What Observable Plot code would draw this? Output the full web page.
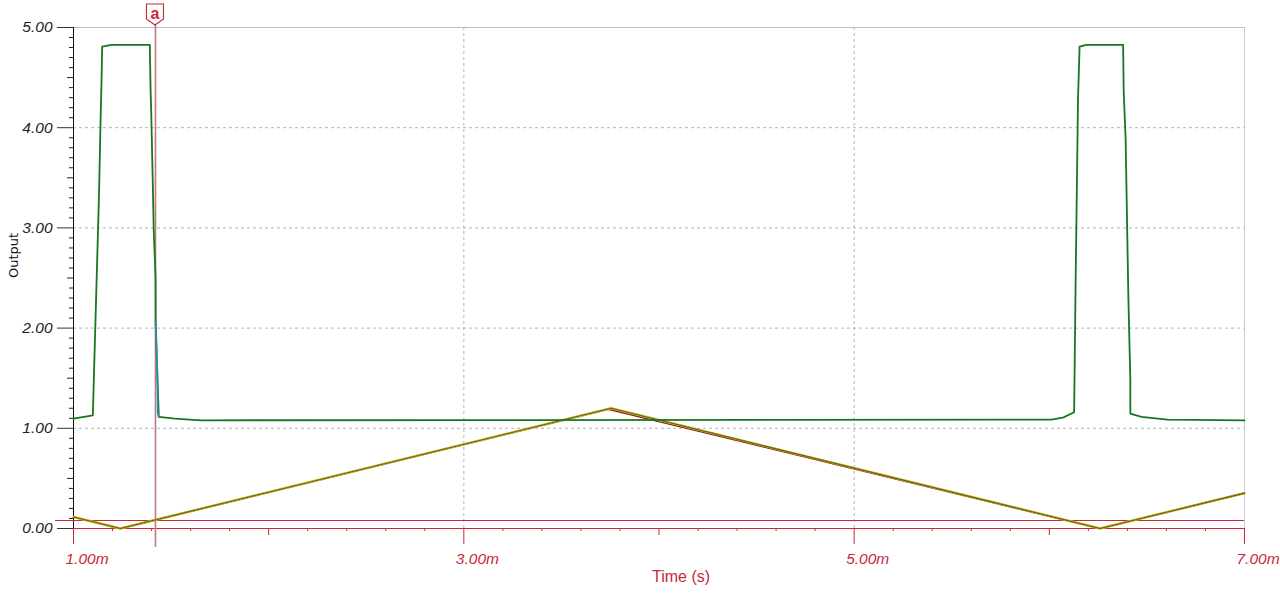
<!DOCTYPE html>
<html><head><meta charset="utf-8">
<script src="https://cdn.jsdelivr.net/npm/d3@7"></script>
<script src="https://cdn.jsdelivr.net/npm/@observablehq/plot@0.6"></script>
<style>
body{margin:0;background:#fff;}
#chart{width:1280px;height:598px;}
</style>
</head><body><div id="chart"></div>
<script>
// ---- data (time in ms, output in V) ----
const greenT = [1.000, 1.099, 1.130, 1.140, 1.144, 1.147, 1.195, 1.391, 1.395, 1.398, 1.408, 1.411, 1.4205, 1.421,
                1.437, 1.520, 1.595, 1.653, 6.010, 6.070, 6.127, 6.135, 6.147, 6.155, 6.190, 6.378, 6.381, 6.391,
                6.405, 6.415, 6.415, 6.472, 6.605, 7.000];
const greenV = [1.097, 1.130, 3.280, 4.180, 4.500, 4.810, 4.827, 4.827, 4.370, 4.180, 3.280, 2.980, 2.510, 2.050,
                1.113, 1.097, 1.087, 1.080, 1.087, 1.107, 1.160, 2.500, 4.290, 4.810, 4.827, 4.827, 4.370, 3.880,
                2.300, 1.480, 1.147, 1.113, 1.087, 1.080];
const tealT = [1.421, 1.429, 1.432, 1.437];
const tealV = [2.050, 1.580, 1.150, 1.113];
const triT = [1.000, 1.240, 3.754, 6.260, 7.000];
const triV = [0.115, 0.000, 1.200, 0.000, 0.353];
const redT = [1.000, 1.240, 3.740, 6.260, 7.000];
const redV = [0.115, 0.000, 1.190, 0.000, 0.353];
const threshold = [0.08];
const cursorT = [1.42];
const cursorLabel = "a";
const xMajor = [1, 3, 5, 7];
const xMedium = [2, 4, 6];
const xMinor = d3.range(1, 7.0001, 0.2).map(d => +d.toFixed(1)).filter(d => !Number.isInteger(d));
const yMajor = [0, 1, 2, 3, 4, 5];
const yMedium = [0.5, 1.5, 2.5, 3.5, 4.5];
const yMinor = d3.range(0, 5.0001, 0.1).map(d => +d.toFixed(1)).filter(d => !Number.isInteger(d * 2));
const xTitle = "Time (s)";
const yTitle = "Output";

const toRows = (T, V) => T.map((t, i) => ({t, v: V[i]}));
const green = toRows(greenT, greenV);
const teal = toRows(tealT, tealV);
const tri = toRows(triT, triV);
const red = toRows(redT, redV);

const RED = "#c8283a";
const font = "'Liberation Sans', Arial, sans-serif";

const plot = Plot.plot({
  width: 1280, height: 598,
  marginLeft: 73, marginRight: 36, marginTop: 27, marginBottom: 70,
  x: {domain: [1, 7]},
  y: {domain: [0, 5]},
  style: {fontFamily: font, background: "white", overflow: "visible"},
  marks: [
    Plot.gridY([1, 2, 3, 4], {stroke: "#b4b4b4", strokeOpacity: 1, strokeDasharray: "3,3"}),
    Plot.gridX([3, 5], {stroke: "#b4b4b4", strokeOpacity: 1, strokeDasharray: "3,3"}),
    Plot.ruleY([5], {stroke: "#bcbcbc"}),
    Plot.ruleX([7], {stroke: "#cccccc"}),
    // y axis
    Plot.axisY(yMinor, {tickSize: 4, tickFormat: () => "", label: null, color: "#222"}),
    Plot.axisY(yMedium, {tickSize: 6, tickFormat: () => "", label: null, color: "#222"}),
    Plot.axisY(yMajor, {tickSize: 16, tickPadding: 5, tickFormat: d => d.toFixed(2), label: null,
      color: "#333", fill: "#222", fontSize: 15.5, fontStyle: "italic"}),
    Plot.ruleX([1], {stroke: "#111"}),
    // x axis
    Plot.axisX(xMinor, {tickSize: 3, tickFormat: () => "", label: null, color: RED}),
    Plot.axisX(xMedium, {tickSize: 7, tickFormat: () => "", label: null, color: RED}),
    Plot.axisX(xMajor, {tickSize: 16, tickFormat: () => "", label: null, color: RED}),
    Plot.axisX(xMajor, {tickSize: 0, tickPadding: 24, tickFormat: d => d.toFixed(2) + "m", label: null,
      color: RED, fontSize: 15.5, fontStyle: "italic", textAnchor: "start", dx: -8}),
    Plot.ruleY([0], {stroke: RED, strokeWidth: 1.2}),
    Plot.ruleY(threshold, {stroke: RED, strokeWidth: 1.1, insetLeft: -18}),
    // cursor
    Plot.ruleX(cursorT, {stroke: "#c07a80", strokeWidth: 1.6, insetTop: -17, insetBottom: -19}),
    // triangle traces
    Plot.line(red, {x: "t", y: "v", stroke: "#8a1010", strokeWidth: 1.6}),
    Plot.line(tri, {x: "t", y: "v", stroke: "#cbb828", strokeWidth: 2.4}),
    Plot.line(tri, {x: "t", y: "v", stroke: "#6a6214", strokeWidth: 1.1}),
    // pulse trace
    Plot.line(green, {x: "t", y: "v", stroke: "#18761e", strokeWidth: 1.8}),
    Plot.line(teal, {x: "t", y: "v", stroke: "#2e8ea8", strokeWidth: 1.8}),
    // titles
    Plot.text([xTitle], {frameAnchor: "bottom", dx: 22, dy: 53, text: d => d, fill: RED, fontSize: 16}),
    Plot.text([yTitle], {frameAnchor: "left", dx: -60, rotate: -90, text: d => d, fill: "#111", fontSize: 13,
      fontFamily: "'DejaVu Sans', sans-serif"})
  ]
});

// cursor flag marker
const svg = d3.select(plot);
const cx = plot.scale("x").apply(cursorT[0]);
const g = svg.append("g");
g.append("path")
  .attr("d", `M${cx - 8.5},4 H${cx + 8.5} V19 L${cx},25 L${cx - 8.5},19 Z`)
  .attr("fill", "white").attr("stroke", RED).attr("stroke-width", 1.1);
g.append("text").attr("x", cx).attr("y", 18.5).attr("text-anchor", "middle")
  .attr("fill", RED).attr("font-size", 16).attr("font-weight", "bold").attr("font-family", font).text(cursorLabel);

document.getElementById("chart").appendChild(plot);
</script>
</body></html>
